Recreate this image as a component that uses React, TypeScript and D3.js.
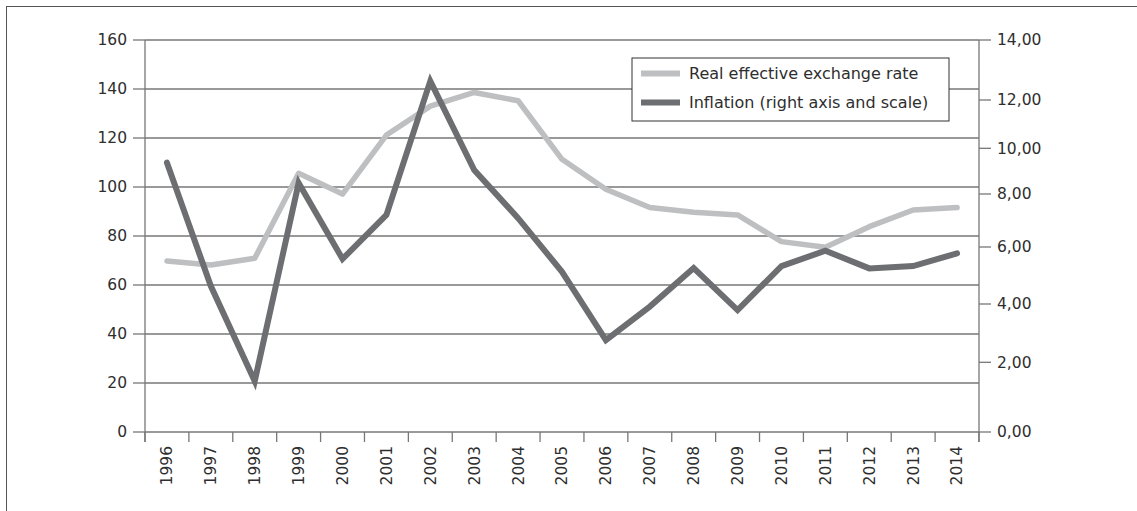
import React from "react";
import * as d3 from "d3";

const years = ["1996","1997","1998","1999","2000","2001","2002","2003","2004","2005","2006","2007","2008","2009","2010","2011","2012","2013","2014"];
const reer = [69.8,68.2,70.9,105.6,97.1,121.2,133.0,138.6,135.2,111.3,99.1,91.6,89.7,88.6,77.7,75.4,83.8,90.6,91.6];
const inflation = [9.37,4.63,1.46,8.48,5.58,7.21,12.63,9.05,7.09,5.13,2.76,3.91,5.26,3.79,5.33,5.87,5.25,5.33,5.78];
const leftTicks = [0,20,40,60,80,100,120,140,160];
const rightTicks = [0,2,4,6,8,10,12,14];
const rightTickPixels = [432,362.3,304,247,194,148.3,100,40];
const legendLabels = ["Real effective exchange rate","Inflation (right axis and scale)"];

const W = 1137, H = 511;
const L = 145, R = 979, T = 40, B = 432;
const FONT = "'DejaVu Sans', Verdana, sans-serif";
const LIGHT = "#bebfc1";
const DARK = "#6d6e71";
const GRID = "#777777";
const TEXT = "#2e2e2e";
const AXF = 15.5;
const LGF = 16;

export default function App() {
  const x = d3.scaleBand<string>().domain(years).range([L, R]).padding(0);
  const yL = d3.scaleLinear().domain([0, 160]).range([B, T]);
  const yR = d3.scaleLinear().domain(rightTicks).range(rightTickPixels);
  const cx = (y: string) => (x(y) as number) + x.bandwidth() / 2;

  const lineL = d3.line<number>().x((_, i) => cx(years[i])).y(v => yL(v));
  const lineR = d3.line<number>().x((_, i) => cx(years[i])).y(v => yR(v));

  const boundaries = years.map(y => x(y) as number).concat([R]);

  return (
    <svg width={W} height={H} style={{ position: "absolute", left: 0, top: 0, background: "#fff" }} fontFamily={FONT}>
      <rect x={0} y={0} width={W} height={H} fill="#fff" />
      <rect x={6.5} y={6.5} width={W + 20} height={H + 20} fill="none" stroke="#555" strokeWidth={1} />
      {leftTicks.map(t => (
        <line key={"g" + t} x1={L} x2={R} y1={yL(t)} y2={yL(t)} stroke={GRID} strokeWidth={1.3} />
      ))}
      <line x1={L} x2={L} y1={T} y2={B + 10} stroke={GRID} strokeWidth={1.3} />
      {leftTicks.map(t => (
        <g key={"l" + t}>
          <line x1={L - 12} x2={L} y1={yL(t)} y2={yL(t)} stroke={GRID} strokeWidth={1.3} />
          <text x={127} y={yL(t)} dy="0.35em" textAnchor="end" fontSize={AXF} fill={TEXT}>{t}</text>
        </g>
      ))}
      <line x1={R} x2={R} y1={T} y2={B + 10} stroke={GRID} strokeWidth={1.3} />
      {rightTicks.map(t => (
        <g key={"r" + t}>
          <line x1={R} x2={R + 12} y1={yR(t)} y2={yR(t)} stroke={GRID} strokeWidth={1.3} />
          <text x={997} y={yR(t)} dy="0.35em" textAnchor="start" fontSize={AXF} fill={TEXT}>{t.toFixed(2).replace(".", ",")}</text>
        </g>
      ))}
      {boundaries.map((bx, i) => (
        <line key={"xt" + i} x1={bx} x2={bx} y1={B} y2={B + 10} stroke={GRID} strokeWidth={1.3} />
      ))}
      {years.map(y => (
        <text key={"xl" + y} transform={`translate(${cx(y)},446) rotate(-90)`} dy="0.35em" textAnchor="end" fontSize={AXF} fill={TEXT}>{y}</text>
      ))}
      <path d={lineL(reer) as string} fill="none" stroke={LIGHT} strokeWidth={5.5} strokeLinejoin="round" strokeLinecap="round" />
      <path d={lineR(inflation) as string} fill="none" stroke={DARK} strokeWidth={6} strokeLinejoin="miter" strokeLinecap="round" />
      <rect x={632} y={58} width={317} height={63} fill="#fff" stroke="#333" strokeWidth={1} />
      <line x1={641} x2={680} y1={73.5} y2={73.5} stroke={LIGHT} strokeWidth={6} />
      <line x1={641} x2={680} y1={102.5} y2={102.5} stroke={DARK} strokeWidth={6} />
      <text x={689} y={73.5} dy="0.35em" fontSize={LGF} fill={TEXT}>{legendLabels[0]}</text>
      <text x={689} y={102.5} dy="0.35em" fontSize={LGF} fill={TEXT}>{legendLabels[1]}</text>
    </svg>
  );
}
